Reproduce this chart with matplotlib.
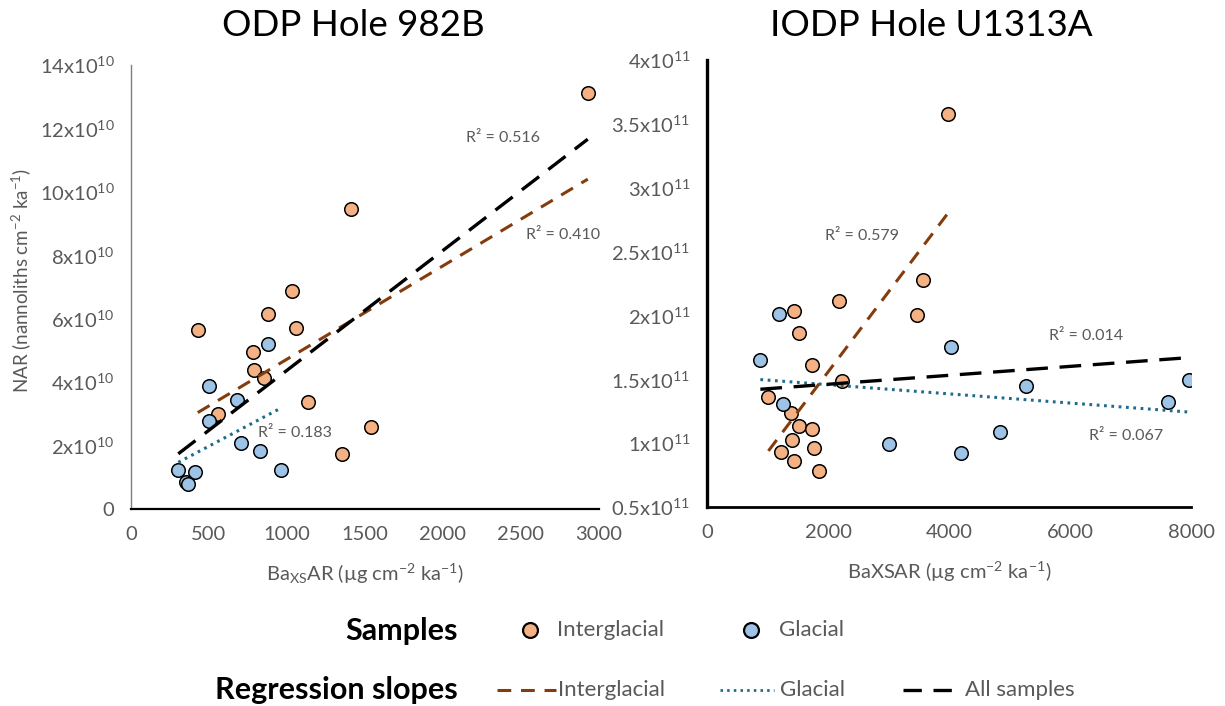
import numpy as np
import matplotlib
matplotlib.use("Agg")
import matplotlib.pyplot as plt
from matplotlib.lines import Line2D

plt.rcParams['font.family'] = ['Lato', 'DejaVu Sans']
plt.rcParams['mathtext.fontset'] = 'custom'
plt.rcParams['mathtext.rm'] = 'Lato'
plt.rcParams['mathtext.it'] = 'Lato'

# ---------------- ODP Hole 982B ----------------
odp_inter_x = [2928, 1412, 1032, 880, 428, 1058, 784, 790, 854, 560, 1133, 1538, 1354]
odp_inter_y = [13.11, 9.47, 6.86, 6.15, 5.65, 5.70, 4.95, 4.39, 4.13, 2.99, 3.38, 2.58, 1.74]  # x1e10
odp_glac_x = [876, 498, 681, 498, 705, 827, 303, 410, 351, 365, 960]
odp_glac_y = [5.20, 3.88, 3.44, 2.78, 2.08, 1.84, 1.22, 1.17, 0.84, 0.80, 1.22]  # x1e10
# trend lines (x range of each group, end values of the fitted line)
odp_trend_inter = ([428, 2928], [3.04, 10.40])
odp_trend_glac = ([303, 960], [1.47, 3.18])
odp_trend_all = ([303, 2928], [1.74, 11.66])
odp_r2 = {'inter': '0.410', 'glac': '0.183', 'all': '0.516'}

# ---------------- IODP Hole U1313A ----------------
iodp_inter_x = [1445, 2174, 1518, 1733, 2230, 1015, 1386, 1518, 1733, 1412, 1776, 1225,
                1445, 1859, 3980, 3575, 3469]
iodp_inter_y = [2.036, 2.112, 1.864, 1.610, 1.487, 1.362, 1.237, 1.135, 1.109, 1.023,
                0.962, 0.934, 0.860, 0.782, 3.578, 2.277, 2.000]  # x1e11
iodp_glac_x = [1197, 882, 1258, 3002, 4033, 5280, 4848, 4192, 7614, 7975]
iodp_glac_y = [2.013, 1.650, 1.310, 0.997, 1.749, 1.451, 1.088, 0.923, 1.323, 1.498]  # x1e11
iodp_trend_inter = ([1015, 3980], [0.939, 2.799])
iodp_trend_glac = ([882, 7975], [1.498, 1.243])
iodp_trend_all = ([882, 7975], [1.422, 1.670])
iodp_r2 = {'inter': '0.579', 'glac': '0.067', 'all': '0.014'}

left_yticks = [0, 2, 4, 6, 8, 10, 12, 14]
left_xticks = [0, 500, 1000, 1500, 2000, 2500, 3000]
right_yticks = [0.5, 1, 1.5, 2, 2.5, 3, 3.5, 4]
right_xticks = [0, 2000, 4000, 6000, 8000]

C_INTER = '#F4B183'
C_GLAC = '#9DC3E6'
L_INTER = '#843C0C'
L_GLAC = '#1F6B8A'
GREY = '#595959'

DASH_INTER = (0, (4.5, 3.2))
DOT_GLAC = (0, (0.9, 1.5))
DASH_ALL = (0, (6.5, 3.5))

fig = plt.figure(figsize=(12.25, 7.06), dpi=100)
axL = fig.add_axes([131 / 1225, 1 - 509 / 706, 468 / 1225, 444 / 706])
axR = fig.add_axes([707 / 1225, 1 - 507 / 706, 484 / 1225, 447 / 706])


def trend(ax, line, color, ls, lw):
    ax.plot(line[0], line[1], color=color, ls=ls, lw=lw, zorder=3,
            solid_capstyle='butt', dash_capstyle='butt')


def panel(ax, ix, iy, gx, gy, t_inter, t_glac, t_all):
    ax.scatter(ix, iy, s=95, c=C_INTER, edgecolors='black', linewidths=1.1, zorder=2)
    ax.scatter(gx, gy, s=95, c=C_GLAC, edgecolors='black', linewidths=1.1, zorder=2)
    trend(ax, t_inter, L_INTER, DASH_INTER, 2.2)
    trend(ax, t_glac, L_GLAC, DOT_GLAC, 2.2)
    trend(ax, t_all, 'black', DASH_ALL, 2.4)
    for s in ('top', 'right'):
        ax.spines[s].set_visible(False)
    ax.tick_params(length=0, colors=GREY, labelsize=14.5, pad=12)
    ax.set_facecolor('none')


panel(axL, odp_inter_x, odp_inter_y, odp_glac_x, odp_glac_y,
      odp_trend_inter, odp_trend_glac, odp_trend_all)
panel(axR, iodp_inter_x, iodp_inter_y, iodp_glac_x, iodp_glac_y,
      iodp_trend_inter, iodp_trend_glac, iodp_trend_all)

# left axes
axL.set_xlim(0, 3000)
axL.set_ylim(0, 14)
axL.set_xticks(left_xticks)
axL.set_xticklabels([str(v) for v in left_xticks])
axL.set_yticks(left_yticks)
axL.set_yticklabels(['0'] + [r'$\mathregular{%dx10^{10}}$' % v for v in left_yticks[1:]])
axL.spines['left'].set_color('#7f7f7f')
axL.spines['left'].set_linewidth(1.0)
axL.spines['bottom'].set_linewidth(1.6)
axL.set_xlabel(r'Ba$\mathregular{_{XS}}$AR (µg cm$\mathregular{^{-2}}$ ka$\mathregular{^{-1}}$)',
               color=GREY, fontsize=14.5, labelpad=14)
axL.set_ylabel(r'NAR (nannoliths cm$\mathregular{^{-2}}$ ka$\mathregular{^{-1}}$)',
               color=GREY, fontsize=13.5)
axL.yaxis.set_label_coords(-0.21, 0.515)

axL.text(2385, 11.7, 'R² = ' + odp_r2['all'], color=GREY, fontsize=11.5, ha='center', va='center')
axL.text(2770, 8.64, 'R² = ' + odp_r2['inter'], color=GREY, fontsize=11.5, ha='center', va='center')
axL.text(1051, 2.41, 'R² = ' + odp_r2['glac'], color=GREY, fontsize=11.5, ha='center', va='center')

# right axes
axR.set_xlim(0, 8000)
axR.set_ylim(0.5, 4)
axR.set_xticks(right_xticks)
axR.set_xticklabels([str(v) for v in right_xticks])
axR.set_yticks(right_yticks)
axR.set_yticklabels([r'$\mathregular{%sx10^{11}}$' % ('%g' % v) for v in right_yticks])
axR.spines['left'].set_linewidth(2.4)
axR.spines['bottom'].set_linewidth(2.0)
axR.set_xlabel(r'BaXSAR (µg cm$\mathregular{^{-2}}$ ka$\mathregular{^{-1}}$)',
               color=GREY, fontsize=14.5, labelpad=14)

axR.text(2566, 2.62, 'R² = ' + iodp_r2['inter'], color=GREY, fontsize=11.5, ha='center', va='center')
axR.text(6258, 1.84, 'R² = ' + iodp_r2['all'], color=GREY, fontsize=11.5, ha='center', va='center')
axR.text(6920, 1.054, 'R² = ' + iodp_r2['glac'], color=GREY, fontsize=11.5, ha='center', va='center')

# panel titles
fig.text(353 / 1225, 1 - 26 / 706, 'ODP Hole 982B', fontsize=26.5, ha='center', va='center')
fig.text(931 / 1225, 1 - 26 / 706, 'IODP Hole U1313A', fontsize=26.5, ha='center', va='center')

# key at the bottom, drawn in pixel coordinates of an overlay axes
key = fig.add_axes([0, 0, 1, 1])
key.set_xlim(0, 1225)
key.set_ylim(706, 0)
key.axis('off')
key.patch.set_alpha(0)

key.text(458, 631, 'Samples', fontsize=22, fontweight='bold', ha='right', va='center')
key.scatter([530], [630], s=115, c=C_INTER, edgecolors='black', linewidths=1.6)
key.text(557, 630, 'Interglacial', color=GREY, fontsize=16, ha='left', va='center')
key.scatter([751], [630], s=115, c=C_GLAC, edgecolors='black', linewidths=1.6)
key.text(779, 630, 'Glacial', color=GREY, fontsize=16, ha='left', va='center')

key.text(458, 690, 'Regression slopes', fontsize=22, fontweight='bold', ha='right', va='center')
key.add_line(Line2D([497, 556], [690, 690], color=L_INTER, ls=DASH_INTER, lw=2.2))
key.text(558, 690, 'Interglacial', color=GREY, fontsize=16, ha='left', va='center')
key.add_line(Line2D([720, 774], [690, 690], color=L_GLAC, ls=DOT_GLAC, lw=2.0))
key.text(780, 690, 'Glacial', color=GREY, fontsize=16, ha='left', va='center')
key.add_line(Line2D([903, 963], [690, 690], color='black', ls=(0, (5.5, 3.5)), lw=2.4))
key.text(965, 690, 'All samples', color=GREY, fontsize=16, ha='left', va='center')

fig.savefig('out.png', dpi=100, facecolor='white')
